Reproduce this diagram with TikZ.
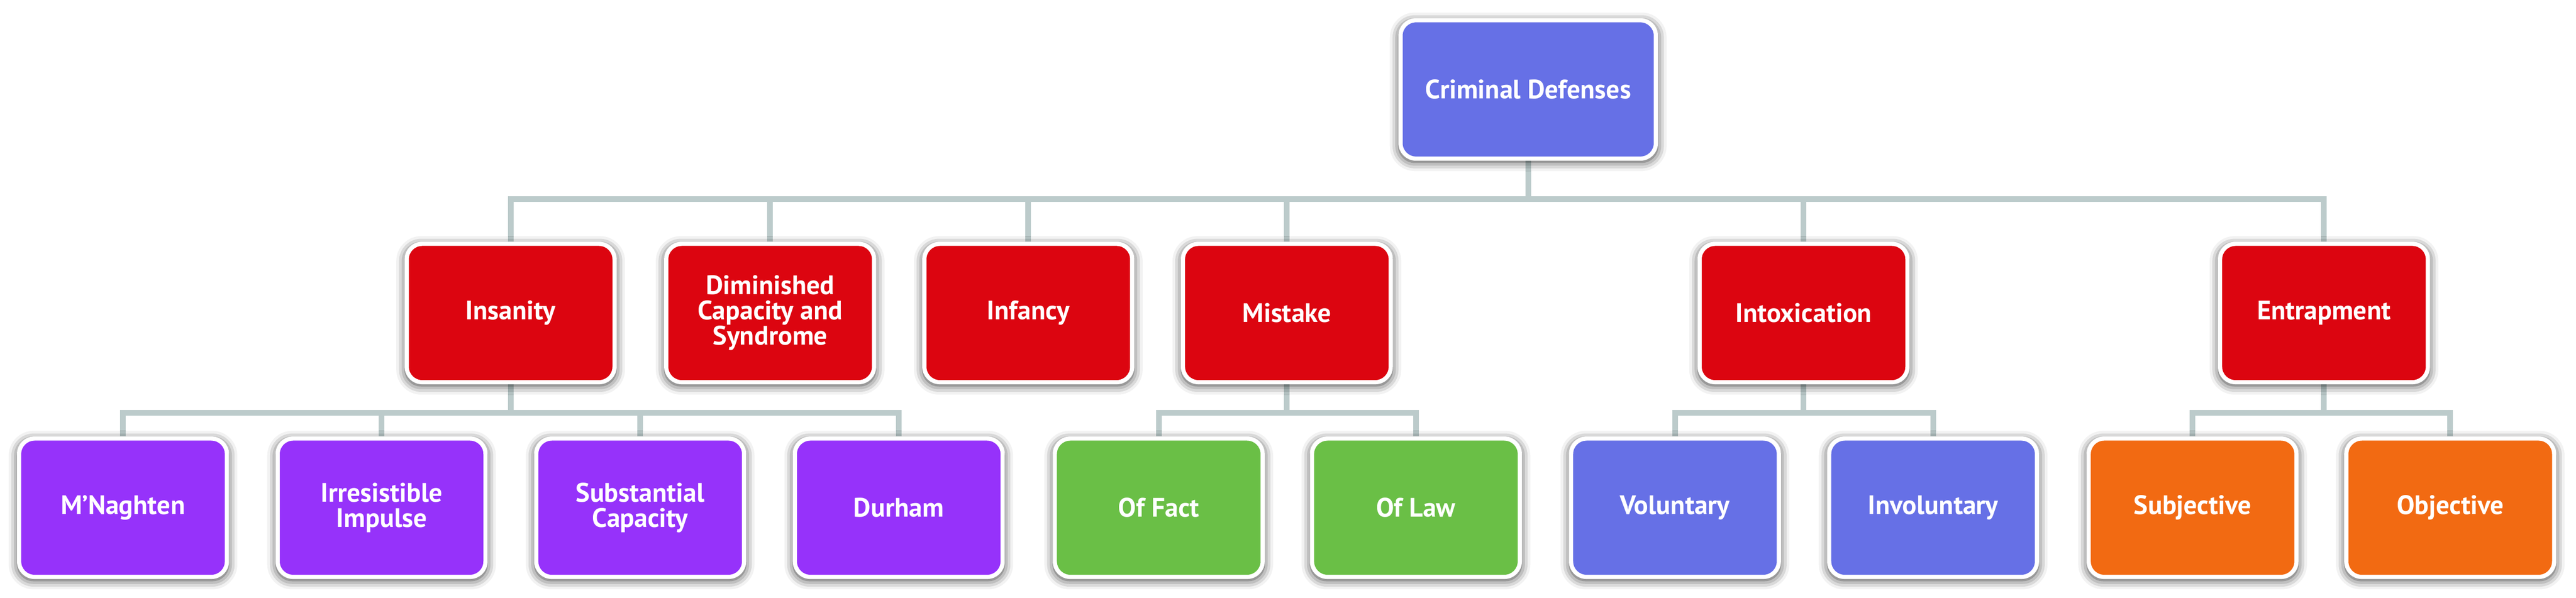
\documentclass[tikz,border=0pt]{standalone}
\usepackage{fontspec}
\setmainfont{PT Sans}
\usepackage{tikz}
\usetikzlibrary{backgrounds,shadows.blur}
\definecolor{DefenseBlue}{HTML}{6670E6}
\definecolor{DefenseRed}{HTML}{DC0510}
\definecolor{DefensePurple}{HTML}{9632FA}
\definecolor{DefenseGreen}{HTML}{6ABF46}
\definecolor{DefenseOrange}{HTML}{F26A12}
\definecolor{LinkGray}{HTML}{BCCBCB}

\begin{document}
\begin{tikzpicture}[
   box/.style={draw=white, line width=0.09cm, rounded corners=0.33cm, inner sep=0pt,
      minimum width=4.46cm, minimum height=2.97cm, text=white, align=center,
      font=\bfseries\fontsize{16.3}{15.4}\selectfont,
      blur shadow={shadow xshift=0cm, shadow yshift=-0.05cm, shadow scale=1.01,
         shadow blur radius=0.2cm, shadow opacity=80}},
   link/.style={draw=LinkGray, line width=0.12cm}
]
   \useasboundingbox (0,0) rectangle (55.29,-12.83);

   % top
   \node[box, fill=DefenseBlue, minimum width=5.48cm] (crim) at (32.80,-1.92) {Criminal Defenses};

   % defenses
   \node[box, fill=DefenseRed] (ins) at (10.96,-6.72) {Insanity};
   \node[box, fill=DefenseRed] (dim) at (16.53,-6.72) {Diminished\\Capacity and\\Syndrome};
   \node[box, fill=DefenseRed] (inf) at (22.07,-6.72) {Infancy};
   \node[box, fill=DefenseRed] (mis) at (27.62,-6.72) {Mistake};
   \node[box, fill=DefenseRed] (tox) at (38.71,-6.72) {Intoxication};
   \node[box, fill=DefenseRed] (ent) at (49.88,-6.72) {Entrapment};

   % kinds
   \node[box, fill=DefensePurple] (mna) at (2.64,-10.90) {M’Naghten};
   \node[box, fill=DefensePurple] (irr) at (8.19,-10.90) {Irresistible\\Impulse};
   \node[box, fill=DefensePurple] (sub) at (13.74,-10.90) {Substantial\\Capacity};
   \node[box, fill=DefensePurple] (dur) at (19.29,-10.90) {Durham};
   \node[box, fill=DefenseGreen] (fact) at (24.87,-10.90) {Of Fact};
   \node[box, fill=DefenseGreen] (law) at (30.39,-10.90) {Of Law};
   \node[box, fill=DefenseBlue] (vol) at (35.95,-10.90) {Voluntary};
   \node[box, fill=DefenseBlue] (invol) at (41.49,-10.90) {Involuntary};
   \node[box, fill=DefenseOrange] (subj) at (47.06,-10.90) {Subjective};
   \node[box, fill=DefenseOrange] (obj) at (52.59,-10.90) {Objective};

   \coordinate (topbus) at (crim.south |- 0,-4.27);
   \coordinate (insbus) at (ins.south |- 0,-8.86);
   \coordinate (misbus) at (mis.south |- 0,-8.86);
   \coordinate (toxbus) at (tox.south |- 0,-8.86);
   \coordinate (entbus) at (ent.south |- 0,-8.86);

   \begin{scope}[on background layer]
      \draw[link] (crim) -- (topbus);
      \draw[link] (ins.north) |- (topbus) -| (ent.north);
      \foreach \n in {dim,inf,mis,tox}
         \draw[link] (\n.north) -- (\n.north |- topbus);

      \draw[link] (ins) -- (insbus);
      \draw[link] (mna.north) |- (insbus) -| (dur.north);
      \foreach \n in {irr,sub}
         \draw[link] (\n.north) -- (\n.north |- insbus);

      \draw[link] (mis) -- (misbus);
      \draw[link] (fact.north) |- (misbus) -| (law.north);
      \draw[link] (tox) -- (toxbus);
      \draw[link] (vol.north) |- (toxbus) -| (invol.north);
      \draw[link] (ent) -- (entbus);
      \draw[link] (subj.north) |- (entbus) -| (obj.north);
   \end{scope}
\end{tikzpicture}
\end{document}
